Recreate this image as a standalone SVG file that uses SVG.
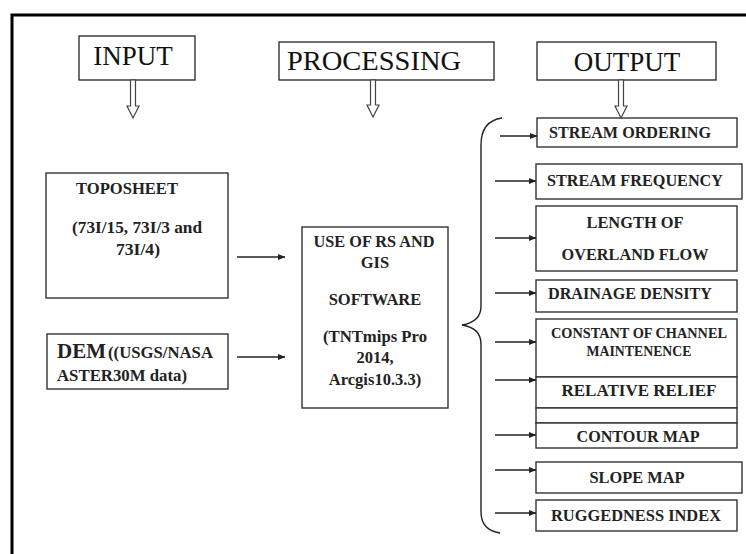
<svg xmlns="http://www.w3.org/2000/svg" width="746" height="554" viewBox="0 0 746 554">
<defs>
<style>
.box{fill:#fff;stroke:#333;stroke-width:1.4}
.hdr{font-family:"Liberation Serif","Times New Roman",serif;font-size:27px;fill:#111;text-anchor:middle}
.t{font-family:"Liberation Serif","Times New Roman",serif;font-weight:bold;font-size:16.5px;fill:#222;text-anchor:middle}
.conn{stroke:#222;stroke-width:1.4;fill:none}
.hollow{fill:#fff;stroke:#444;stroke-width:1.2}
</style>
<marker id="ah" viewBox="0 0 8 8" refX="7.5" refY="4" markerWidth="8" markerHeight="8" markerUnits="userSpaceOnUse" orient="auto">
<path d="M0,0.8 L8,4 L0,7.2 Z" fill="#222"/>
</marker>
</defs>
<rect width="746" height="554" fill="#fff"/>
<path d="M12,554 L12,15 L746,15" fill="none" stroke="#000" stroke-width="3"/>

<g id="input-header">
<rect class="box" x="79" y="36" width="116" height="44"/>
<text class="hdr" x="133" y="65">INPUT</text>
</g>
<g id="processing-header">
<rect class="box" x="279" y="42" width="215" height="38"/>
<text class="hdr" x="374" y="70" textLength="174" lengthAdjust="spacingAndGlyphs">PROCESSING</text>
</g>
<g id="output-header">
<rect class="box" x="537" y="42" width="179" height="38"/>
<text class="hdr" x="627" y="71">OUTPUT</text>
</g>

<g id="toposheet">
<rect class="box" x="46" y="173" width="182" height="125"/>
<text class="t" x="127" y="194" textLength="102" lengthAdjust="spacingAndGlyphs">TOPOSHEET</text>
<text class="t" x="137" y="233" style="font-size:17.5px" textLength="130" lengthAdjust="spacingAndGlyphs">(73I/15, 73I/3 and</text>
<text class="t" x="138" y="255" style="font-size:17.5px" textLength="44" lengthAdjust="spacingAndGlyphs">73I/4)</text>
</g>
<g id="dem">
<rect class="box" x="47" y="334" width="181" height="55"/>
<text class="t" x="57" y="358" style="text-anchor:start;font-size:21px" textLength="49" lengthAdjust="spacingAndGlyphs">DEM</text>
<text class="t" x="108" y="358" style="text-anchor:start;font-size:16px" textLength="105" lengthAdjust="spacingAndGlyphs">((USGS/NASA</text>
<text class="t" x="57" y="381" style="text-anchor:start;font-size:16.5px" textLength="130" lengthAdjust="spacingAndGlyphs">ASTER30M data)</text>
</g>

<g id="processing">
<rect class="box" x="302" y="227" width="146" height="181"/>
<text class="t" x="374" y="247" textLength="121" lengthAdjust="spacingAndGlyphs">USE OF RS AND</text>
<text class="t" x="375" y="268">GIS</text>
<text class="t" x="375" y="305">SOFTWARE</text>
<text class="t" x="375" y="342" textLength="104" lengthAdjust="spacingAndGlyphs">(TNTmips Pro</text>
<text class="t" x="375" y="363">2014,</text>
<text class="t" x="375" y="385">Arcgis10.3.3)</text>
</g>

<g id="stream-ordering">
<rect class="box" x="537" y="118" width="200" height="29"/>
<text class="t" x="630" y="138" textLength="162" lengthAdjust="spacingAndGlyphs">STREAM ORDERING</text>
</g>
<g id="stream-frequency">
<rect class="box" x="536" y="164" width="206" height="35"/>
<text class="t" x="635" y="186" textLength="176" lengthAdjust="spacingAndGlyphs">STREAM FREQUENCY</text>
</g>
<g id="length-overland">
<rect class="box" x="536" y="206" width="201" height="65"/>
<text class="t" x="635" y="228" textLength="97" lengthAdjust="spacingAndGlyphs">LENGTH OF</text>
<text class="t" x="635" y="260" textLength="147" lengthAdjust="spacingAndGlyphs">OVERLAND FLOW</text>
</g>
<g id="drainage-density">
<rect class="box" x="536" y="280" width="201" height="32"/>
<text class="t" x="630" y="299" textLength="164" lengthAdjust="spacingAndGlyphs">DRAINAGE DENSITY</text>
</g>
<g id="constant-channel">
<rect class="box" x="536" y="319" width="201" height="58"/>
<text class="t" x="639" y="338" style="font-size:14.5px" textLength="176" lengthAdjust="spacingAndGlyphs">CONSTANT OF CHANNEL</text>
<text class="t" x="639" y="356" style="font-size:14.5px" textLength="105" lengthAdjust="spacingAndGlyphs">MAINTENENCE</text>
</g>
<g id="relative-relief">
<rect class="box" x="536" y="377" width="201" height="31"/>
<text class="t" x="639" y="396" textLength="155" lengthAdjust="spacingAndGlyphs">RELATIVE RELIEF</text>
</g>
<g id="blank-row">
<rect class="box" x="536" y="408" width="201" height="15"/>
</g>
<g id="contour-map">
<rect class="box" x="536" y="423" width="201" height="25"/>
<text class="t" x="638" y="442" textLength="123" lengthAdjust="spacingAndGlyphs">CONTOUR MAP</text>
</g>
<g id="slope-map">
<rect class="box" x="536" y="462" width="206" height="31"/>
<text class="t" x="637" y="483" textLength="95" lengthAdjust="spacingAndGlyphs">SLOPE MAP</text>
</g>
<g id="ruggedness-index">
<rect class="box" x="536" y="500" width="201" height="31"/>
<text class="t" x="636" y="521" textLength="170" lengthAdjust="spacingAndGlyphs">RUGGEDNESS INDEX</text>
</g>

<g id="connectors">
<path class="hollow" d="M130.5,80 L135.5,80 L135.5,106 L139,106 L133,118 L127,106 L130.5,106 Z"/>
<path class="hollow" d="M370.5,80 L375.5,80 L375.5,105 L379,105 L373,117 L367,105 L370.5,105 Z"/>
<path class="hollow" d="M618.5,80 L623.5,80 L623.5,106 L627,106 L621,118 L615,106 L618.5,106 Z"/>
<line class="conn" x1="237" y1="257" x2="285" y2="257" marker-end="url(#ah)"/>
<line class="conn" x1="237" y1="357" x2="285" y2="357" marker-end="url(#ah)"/>
<path class="conn" stroke-width="1.3" d="M502,118 Q481,121 481,145 L481,306 Q481,322 462,325 Q481,328 481,344 L481,512 Q481,530 500,533"/>
<line class="conn" x1="500" y1="136" x2="537" y2="136" marker-end="url(#ah)"/>
<line class="conn" x1="495" y1="181" x2="536" y2="181" marker-end="url(#ah)"/>
<line class="conn" x1="495" y1="238" x2="536" y2="238" marker-end="url(#ah)"/>
<line class="conn" x1="495" y1="293" x2="536" y2="293" marker-end="url(#ah)"/>
<line class="conn" x1="495" y1="342" x2="536" y2="342" marker-end="url(#ah)"/>
<line class="conn" x1="495" y1="380" x2="536" y2="380" marker-end="url(#ah)"/>
<line class="conn" x1="495" y1="435" x2="536" y2="435" marker-end="url(#ah)"/>
<line class="conn" x1="495" y1="470" x2="536" y2="470" marker-end="url(#ah)"/>
<line class="conn" x1="495" y1="513" x2="536" y2="513" marker-end="url(#ah)"/>
</g>
</svg>
